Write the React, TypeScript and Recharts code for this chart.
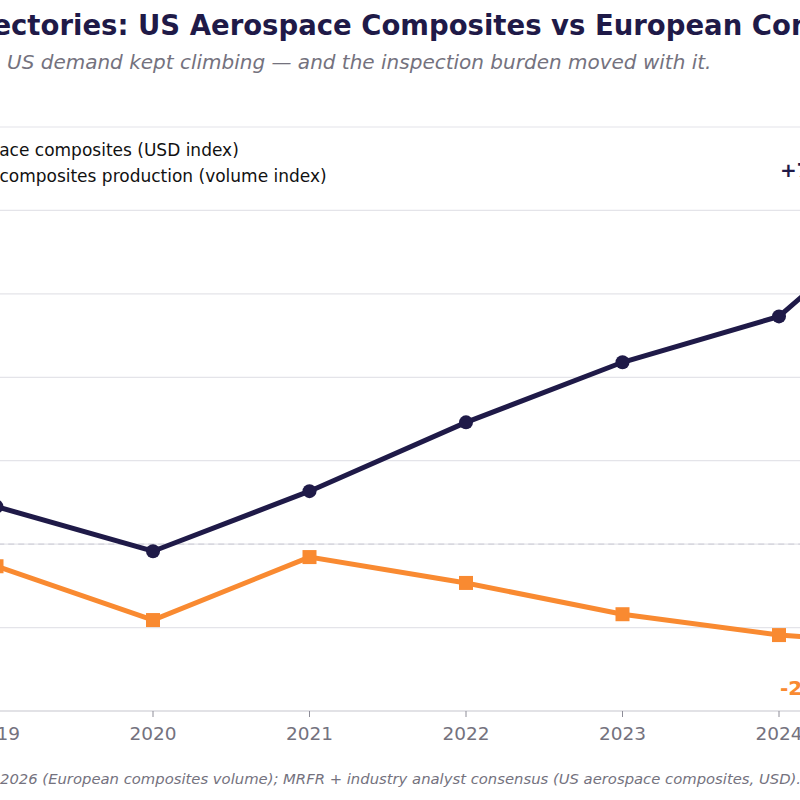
import React from "react";
import {
  CartesianGrid,
  Line,
  LineChart,
  ReferenceDot,
  ReferenceLine,
  XAxis,
  YAxis,
} from "recharts";

// Index series, one value per year
const YEARS = [2019, 2020, 2021, 2022, 2023, 2024, 2025];
const US_AEROSPACE = [109, 98.3, 112.7, 129.2, 143.6, 154.6, 187];
const EU_VOLUME = [94.7, 81.8, 96.9, 90.7, 83.2, 78.2, 75.5];
const Y_TICKS = [60, 80, 100, 120, 140, 160, 180, 200];

const US_NAME = "US aerospace composites (USD index)";
const EU_NAME = "European composites production (volume index)";

const NAVY = "#1f1a48";
const ORANGE = "#f98a31";
const GRID = "#e4e4e9";
const MUTED = "#74727e";
const FONT = "'DejaVu Sans', Verdana, sans-serif";

const data = YEARS.map((year, i) => ({
  year,
  us: US_AEROSPACE[i],
  eu: EU_VOLUME[i],
}));

const SERIES = [
  { key: "us", name: US_NAME, color: NAVY, marker: "circle" },
  { key: "eu", name: EU_NAME, color: ORANGE, marker: "square" },
];

// change from first to last year, in percent
const change = (arr: number[]) =>
  Math.round((arr[arr.length - 1] / arr[0] - 1) * 100);
const fmtChange = (v: number) => (v > 0 ? `+${v}%` : `${v}%`);

const CHART_W = 1214;
const CHART_H = 800;
const SHIFT_X = -160;
const X_PAD = 78.25; // half a year of space at each end

function SquareDot(props: any) {
  const { cx, cy, index } = props;
  if (cx == null || cy == null) return null;
  return (
    <rect key={`sq-${index}`} x={cx - 7} y={cy - 7} width={14} height={14} fill={ORANGE} />
  );
}

// legend sits over the top-left of the plot, outside recharts' layout
function SeriesLegend() {
  return (
    <div
      style={{
        position: "absolute",
        left: 30,
        top: 137,
        fontFamily: FONT,
        fontSize: 17,
        color: "#111",
      }}
    >
      {SERIES.map((s) => (
        <div
          key={s.key}
          style={{ display: "flex", alignItems: "center", height: 26, whiteSpace: "nowrap" }}
        >
          <svg width={36} height={14} style={{ marginRight: 7 }}>
            <line x1={0} y1={7} x2={36} y2={7} stroke={s.color} strokeWidth={4} />
            {s.marker === "square" ? (
              <rect x={12} y={1} width={12} height={12} fill={s.color} />
            ) : (
              <circle cx={18} cy={7} r={6} fill={s.color} />
            )}
          </svg>
          <span>{s.name}</span>
        </div>
      ))}
    </div>
  );
}

function endLabel(text: string, color: string, dy: number) {
  return (props: any) => (
    <text
      x={props.cx + 1}
      y={props.cy + dy}
      dominantBaseline="central"
      fontFamily={FONT}
      fontSize={20}
      fontWeight="bold"
      fill={color}
    >
      {text}
    </text>
  );
}

export default function App() {
  const last = YEARS.length - 1;
  return (
    <div
      style={{
        position: "absolute",
        left: 0,
        top: 0,
        width: 800,
        height: 800,
        overflow: "hidden",
        background: "#fff",
        fontFamily: FONT,
      }}
    >
      <div style={{ position: "absolute", left: SHIFT_X, top: 0, width: CHART_W, height: CHART_H }}>
        <LineChart
          width={CHART_W}
          height={CHART_H}
          data={data}
          margin={{ top: 127, right: 40.25, bottom: 59, left: 18.25 }}
        >
          <CartesianGrid vertical={false} stroke={GRID} strokeWidth={1.2} />
          <ReferenceLine y={100} stroke="#d2d2da" strokeDasharray="6 4" strokeWidth={1.2} />
          <XAxis
            dataKey="year"
            type="category"
            padding={{ left: X_PAD, right: X_PAD }}
            axisLine={{ stroke: "#dcdce2", strokeWidth: 1.5 }}
            tickLine={{ stroke: "#8e8d98" }}
            tickSize={6}
            tickMargin={10}
            height={30}
            interval={0}
            tick={{ fill: MUTED, fontSize: 18.5, fontFamily: FONT }}
          />
          <YAxis
            domain={[60, 200]}
            allowDataOverflow
            ticks={Y_TICKS}
            width={60}
            axisLine={false}
            tickLine={false}
            tick={{ fill: MUTED, fontSize: 16, fontFamily: FONT }}
          />
          <Line
            dataKey="us"
            name={US_NAME}
            stroke={NAVY}
            strokeWidth={5}
            dot={{ r: 7, fill: NAVY, stroke: "none" }}
            isAnimationActive={false}
          />
          <Line
            dataKey="eu"
            name={EU_NAME}
            stroke={ORANGE}
            strokeWidth={5}
            dot={<SquareDot />}
            isAnimationActive={false}
          />
          <ReferenceDot
            x={YEARS[last - 1]}
            y={US_AEROSPACE[last]}
            r={0}
            shape={endLabel(fmtChange(change(US_AEROSPACE)), NAVY, -11)}
          />
          <ReferenceDot
            x={YEARS[last - 1]}
            y={EU_VOLUME[last]}
            r={0}
            shape={endLabel(fmtChange(change(EU_VOLUME)), ORANGE, 42)}
          />
        </LineChart>
        <SeriesLegend />
      </div>

      <div
        style={{
          position: "absolute",
          left: 138,
          top: 7,
          fontSize: 27.5,
          fontWeight: "bold",
          color: NAVY,
          whiteSpace: "pre",
          lineHeight: "36px",
        }}
      >
        <span style={{ position: "absolute", right: "100%" }}>Diverging Trajectories: </span>
        US Aerospace Composites vs European Composites Production
      </div>
      <div
        style={{
          position: "absolute",
          left: 7,
          top: 48,
          fontSize: 20,
          fontStyle: "italic",
          color: MUTED,
          whiteSpace: "nowrap",
          lineHeight: "28px",
        }}
      >
        US demand kept climbing — and the inspection burden moved with it.
      </div>
      <div
        style={{
          position: "absolute",
          left: 0,
          top: 769,
          fontSize: 14.8,
          fontStyle: "italic",
          color: MUTED,
          whiteSpace: "pre",
          lineHeight: "20px",
        }}
      >
        <span style={{ position: "absolute", right: "100%" }}>Sources: JEC Observer 2019–</span>
        2026 (European composites volume); MRFR + industry analyst consensus (US aerospace composites, USD). Index values.
      </div>
    </div>
  );
}
